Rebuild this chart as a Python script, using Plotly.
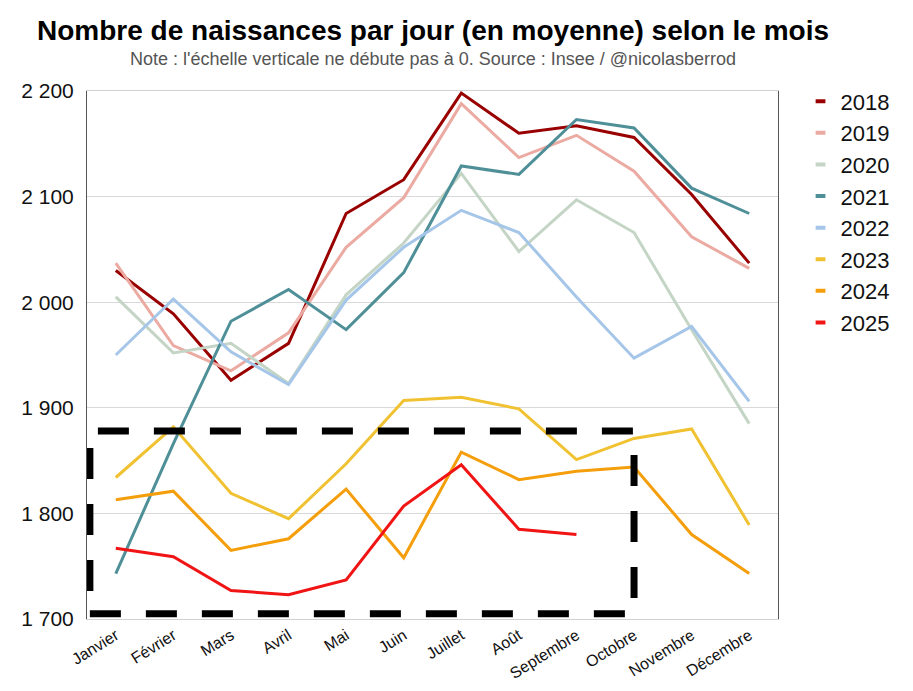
import plotly.graph_objects as go

months = ["Janvier", "Février", "Mars", "Avril", "Mai", "Juin", "Juillet",
          "Août", "Septembre", "Octobre", "Novembre", "Décembre"]

y2018 = [2030, 1989, 1926, 1961, 2084, 2116, 2198, 2160, 2167, 2156, 2102, 2037]
y2019 = [2037, 1959, 1935, 1971, 2052, 2099, 2188, 2137, 2158, 2124, 2062, 2032]
y2020 = [2005, 1952, 1961, 1923, 2007, 2056, 2122, 2048, 2097, 2066, 1974, 1885]
y2021 = [1743, 1866, 1982, 2012, 1974, 2028, 2129, 2121, 2173, 2165, 2108, 2084]
y2022 = [1950, 2003, 1953, 1922, 2002, 2052, 2087, 2066, 2005, 1947, 1977, 1906]
y2023 = [1834, 1882, 1819, 1795, 1847, 1907, 1910, 1899, 1851, 1871, 1880, 1789]
y2024 = [1813, 1821, 1765, 1776, 1823, 1758, 1858, 1832, 1840, 1844, 1780, 1743]
y2025 = [1767, 1759, 1727, 1723, 1737, 1807, 1846, 1785, 1780]

years = ["2018", "2019", "2020", "2021", "2022", "2023", "2024", "2025"]
series = [y2018, y2019, y2020, y2021, y2022, y2023, y2024, y2025]
colors = ["#990000", "#EBAAA2", "#C4D5C6", "#4F8F98", "#A5C6E8",
          "#F0C232", "#F59E0B", "#F01414"]

ytick_vals = [1700, 1800, 1900, 2000, 2100, 2200]
ytick_text = ["1 700", "1 800", "1 900", "2 000", "2 100", "2 200"]

title_text = "Nombre de naissances par jour (en moyenne) selon le mois"
subtitle_text = "Note : l'échelle verticale ne débute pas à 0. Source : Insee / @nicolasberrod"

# highlighted zone (dashed box)
box_x = [-0.45, 9]
box_y = [1705, 1878]

FONT = "Liberation Sans, Arial, sans-serif"

fig = go.Figure()
for name, vals, col in zip(years, series, colors):
    fig.add_trace(go.Scatter(
        x=months[:len(vals)], y=vals, mode="lines", name=name,
        line=dict(color=col, width=3), showlegend=False,
    ))
for name, col in zip(years, colors):
    fig.add_trace(go.Scatter(
        x=[None], y=[None], mode="markers", name=name,
        marker=dict(symbol="line-ew-open", size=7, color=col,
                    line=dict(color=col, width=4)),
        showlegend=True,
    ))

fig.add_shape(type="rect", xref="x", yref="y",
              x0=box_x[0], x1=box_x[1], y0=box_y[0], y1=box_y[1],
              line=dict(color="black", width=7, dash="31px,25px"))

fig.add_annotation(text="<b>" + title_text + "</b>", xref="paper", yref="paper",
                   x=0.5, y=1.1155, xanchor="center", yanchor="middle",
                   showarrow=False, font=dict(size=28, color="black", family=FONT))
fig.add_annotation(text=subtitle_text, xref="paper", yref="paper",
                   x=0.5, y=1.0606, xanchor="center", yanchor="middle",
                   showarrow=False, font=dict(size=18, color="#555", family=FONT))

fig.update_layout(
    width=905, height=683,
    margin=dict(l=79, r=135, t=83, b=72, autoexpand=False),
    paper_bgcolor="white", plot_bgcolor="white",
    font=dict(family=FONT, color="#111"),
    xaxis=dict(
        type="category", categoryarray=months, range=[-0.5, 11.5],
        showgrid=False, showline=True, linecolor="#D0D0D0", linewidth=1,
        mirror=True, zeroline=False, automargin=False,
        tickangle=-32, tickfont=dict(size=16, color="#111"),
        ticks="",
    ),
    yaxis=dict(
        range=[1700, 2200], tickvals=ytick_vals, ticktext=ytick_text,
        showgrid=True, gridcolor="#D9D9D9", gridwidth=1,
        showline=True, linecolor="#555", linewidth=1, mirror=True,
        zeroline=False, tickfont=dict(size=21, color="#111"), automargin=False,
        ticks="", ticklabelstandoff=8,
    ),
    legend=dict(
        x=1.0326, xanchor="left", y=1.02, yanchor="top",
        font=dict(size=22, color="#111"),
        bgcolor="rgba(0,0,0,0)", tracegroupgap=0,
    ),
)

fig.write_html("out.html")
